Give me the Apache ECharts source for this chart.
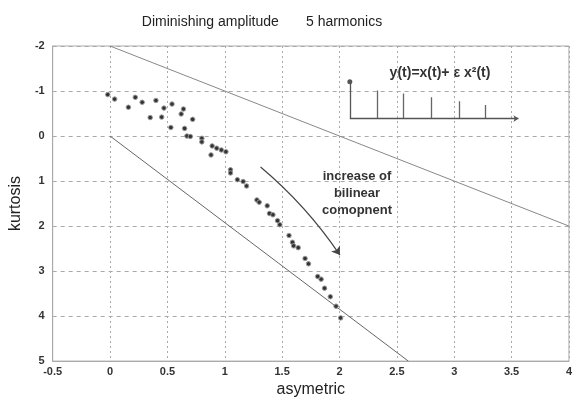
<!DOCTYPE html>
<html><head><meta charset="utf-8">
<script src="https://cdn.jsdelivr.net/npm/echarts@6/dist/echarts.min.js"></script>
<style>html,body{margin:0;padding:0;background:#fff}#c{width:575px;height:403px}</style>
</head><body><div id="c"></div>
<script>
var asymX = [-0.02,0.04,0.22,0.16,0.28,0.40,0.35,0.45,0.47,0.54,0.64,0.62,0.72,0.53,0.65,0.67,0.70,0.80,0.80,0.89,0.93,0.97,1.01,0.88,1.05,1.05,1.11,1.16,1.19,1.28,1.30,1.37,1.39,1.42,1.46,1.48,1.56,1.59,1.60,1.64,1.70,1.73,1.81,1.84,1.87,1.92,1.97,2.01];
var kurtY = [-0.92,-0.82,-0.86,-0.64,-0.75,-0.79,-0.41,-0.42,-0.62,-0.71,-0.60,-0.49,-0.37,-0.19,-0.17,0.0,0.01,0.05,0.13,0.22,0.27,0.31,0.35,0.42,0.75,0.82,0.97,1.01,1.11,1.42,1.47,1.55,1.72,1.75,1.88,1.97,2.21,2.36,2.44,2.48,2.72,2.84,3.12,3.18,3.38,3.57,3.78,4.04];
var upperBound = [[0,-2],[4,2]];
var lowerBound = [[0,0],[2.6,5]];
// inset stem plot (in axis units)
var stemX = [2.33,2.56,2.80,3.04,3.27];
var stemTop = [-1.01,-0.946,-0.86,-0.774,-0.688];
var insetOrigin = [2.09,-0.387];
var insetXEnd = 3.56;
var insetYEnd = -1.204;
var arrowCoords = [[1.312,0.688],[2.004,2.645]];

var pts = asymX.map(function(x,i){return [x,kurtY[i]];});
var stems = stemX.map(function(x,i){return {coords:[[x,insetOrigin[1]],[x,stemTop[i]]]};});

var chart = echarts.init(document.getElementById('c'));
var lab = {color:'#333',fontFamily:'Arial, Liberation Sans',fontSize:11,fontWeight:'bold'};
chart.setOption({
  animation:false,
  title:{text:'Diminishing amplitude       5 harmonics',left:257,textAlign:'center',top:10,
    textStyle:{fontFamily:'Arial, Liberation Sans',fontSize:14,fontWeight:'normal',color:'#222'}},
  grid:{left:45,top:46,right:4,bottom:31,show:true,borderColor:'#aaa',borderWidth:1},
  xAxis:{type:'value',min:-0.5,max:4,interval:0.5,
    name:'asymetric',nameLocation:'middle',nameGap:19,
    nameTextStyle:{fontFamily:'Arial, Liberation Sans',fontSize:16,color:'#222'},
    axisLine:{onZero:false,lineStyle:{color:'#aaa'}},axisTick:{show:false},
    axisLabel:Object.assign({margin:5,formatter:function(v){return String(v);}},lab),
    splitLine:{show:true,lineStyle:{color:'#aaa',type:[2,3],width:1}}},
  yAxis:{type:'value',min:-2,max:5,interval:1,inverse:true,
    name:'kurtosis',nameLocation:'middle',nameGap:26,
    nameTextStyle:{fontFamily:'Arial, Liberation Sans',fontSize:16,color:'#222'},
    axisLine:{onZero:false,lineStyle:{color:'#aaa'}},axisTick:{show:false},
    axisLabel:Object.assign({margin:8},lab),
    splitLine:{show:true,lineStyle:{color:'#aaa',type:[4,4],width:1}}},
  series:[
    {type:'line',data:upperBound,symbol:'none',lineStyle:{color:'#888',width:1},z:2},
    {type:'line',data:lowerBound,symbol:'none',lineStyle:{color:'#666',width:1},z:2},
    {type:'scatter',data:pts,symbol:'circle',symbolSize:4.5,
      itemStyle:{color:'#333',borderColor:'#999',borderWidth:1,opacity:1},z:5},
    {type:'lines',coordinateSystem:'cartesian2d',data:stems,
      lineStyle:{color:'#666',width:1.3,opacity:1},symbol:'none',z:4},
    {type:'lines',coordinateSystem:'cartesian2d',
      data:[{coords:[insetOrigin,[insetXEnd,insetOrigin[1]]],symbol:['none','arrow']},
            {coords:[insetOrigin,[insetOrigin[0],insetYEnd]],symbol:['none','circle']}],
      symbolSize:5,lineStyle:{color:'#555',width:1.3,opacity:1},z:4},
    {type:'lines',coordinateSystem:'cartesian2d',
      data:[{coords:arrowCoords}],symbol:['none','arrow'],symbolSize:8,
      lineStyle:{color:'#444',width:1.2,curveness:0.07,opacity:1},z:4}
  ],
  graphic:[
    {type:'text',x:440,y:66,style:{text:'y(t)=x(t)+ ε x²(t)',align:'center',
      font:'bold 14px Arial, Liberation Sans',fill:'#333'}},
    {type:'text',x:357,y:168,style:{text:'increase of\nbilinear\ncomopnent',
      font:'bold 13px Arial, Liberation Sans',fill:'#333',align:'center',lineHeight:17}}
  ]
});
</script></body></html>
